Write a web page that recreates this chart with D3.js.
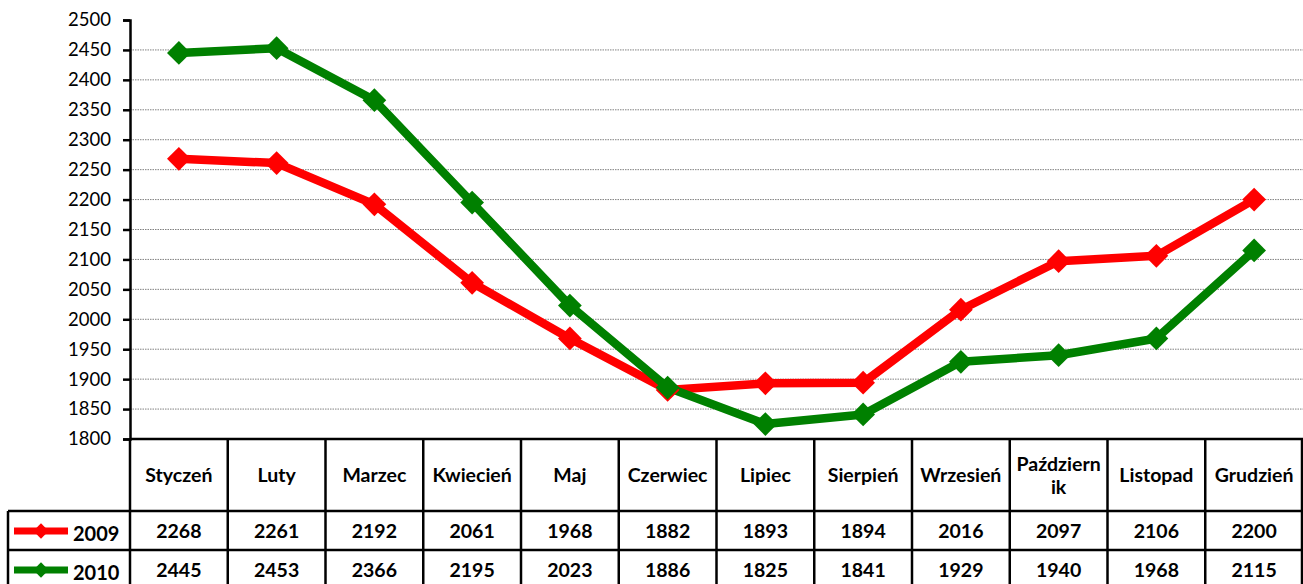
<!DOCTYPE html>
<html>
<head>
<meta charset="utf-8">
<script src="https://cdnjs.cloudflare.com/ajax/libs/d3/7.8.5/d3.min.js"></script>
<style>
  body { margin: 0; background: #fff; }
  svg { display: block; font-family: Lato, "Noto Sans", sans-serif; }
</style>
</head>
<body>
<div id="chart"></div>
<script>
var months = ["Styczeń", "Luty", "Marzec", "Kwiecień", "Maj", "Czerwiec", "Lipiec", "Sierpień", "Wrzesień", "Październik", "Listopad", "Grudzień"];
var monthLines = [["Styczeń"], ["Luty"], ["Marzec"], ["Kwiecień"], ["Maj"], ["Czerwiec"], ["Lipiec"], ["Sierpień"], ["Wrzesień"], ["Październ", "ik"], ["Listopad"], ["Grudzień"]];
var values2009 = [2268, 2261, 2192, 2061, 1968, 1882, 1893, 1894, 2016, 2097, 2106, 2200];
var values2010 = [2445, 2453, 2366, 2195, 2023, 1886, 1825, 1841, 1929, 1940, 1968, 2115];
var yTicks = d3.range(1800, 2501, 50);

var series = [
  { name: "2009", color: "#ff0000", values: values2009 },
  { name: "2010", color: "#008000", values: values2010 }
];

var svgWidth = 1303;
var svgHeight = 584;
var plot = { left: 130, right: 1303, top: 20, bottom: 439 };
var row1 = 511, row2 = 550, row3 = 590;

var svg = d3.select("#chart")
    .append("svg")
    .attr("width", svgWidth)
    .attr("height", svgHeight);

var x = d3.scaleBand().domain(months).range([plot.left, plot.right]);
var y = d3.scaleLinear().domain([1800, 2500]).range([plot.bottom, plot.top]);
var cx = d => x(d) + x.bandwidth() / 2;

// gridlines
svg.append("g")
    .selectAll("line")
    .data(yTicks.filter(t => t > 1800 && t < 2500))
    .enter()
    .append("line")
    .attr("x1", plot.left)
    .attr("x2", plot.right)
    .attr("y1", d => y(d))
    .attr("y2", d => y(d))
    .attr("stroke", "#808080")
    .attr("stroke-width", 1)
    .attr("stroke-dasharray", "1.5,1");

// y axis
var leftAxis = d3.axisLeft(y).tickValues(yTicks).tickFormat(d3.format("d")).tickSize(7).tickPadding(12);
var axisG = svg.append("g")
    .attr("transform", `translate(${plot.left}, 0)`)
    .call(leftAxis);
axisG.select(".domain").attr("stroke", "#000").attr("stroke-width", 2.5);
axisG.selectAll(".tick line").attr("stroke", "#000").attr("stroke-width", 2.5);
axisG.selectAll(".tick text")
    .style("font-size", "18.5px")
    .style("font-family", "Lato, 'Noto Sans', sans-serif")
    .attr("fill", "#000");

// lines and markers
var line = d3.line()
    .x((d, i) => cx(months[i]))
    .y(d => y(d));

series.forEach(function (s) {
    svg.append("path")
        .datum(s.values)
        .attr("d", line)
        .attr("fill", "none")
        .attr("stroke", s.color)
        .attr("stroke-width", 8.5)
        .attr("stroke-linejoin", "round");
});

var diamond = d3.symbol().type(d3.symbolDiamond2).size(360);
series.forEach(function (s) {
    svg.append("g")
        .selectAll("path")
        .data(s.values)
        .enter()
        .append("path")
        .attr("d", diamond)
        .attr("transform", (d, i) => `translate(${cx(months[i])}, ${y(d)})`)
        .attr("fill", s.color);
});

// data table
var table = svg.append("g");
var lw = 2.5;

table.append("line").attr("x1", plot.left).attr("x2", plot.right).attr("y1", plot.bottom).attr("y2", plot.bottom)
    .attr("stroke", "#000").attr("stroke-width", lw);
[row1, row2].forEach(function (yy) {
    table.append("line").attr("x1", 8).attr("x2", plot.right).attr("y1", yy).attr("y2", yy)
        .attr("stroke", "#000").attr("stroke-width", lw);
});
var bounds = months.map(m => x(m)).concat([plot.right - 1]);
table.selectAll(".vline")
    .data(bounds)
    .enter()
    .append("line")
    .attr("class", "vline")
    .attr("x1", d => d)
    .attr("x2", d => d)
    .attr("y1", plot.bottom)
    .attr("y2", row3)
    .attr("stroke", "#000")
    .attr("stroke-width", lw);
table.append("line").attr("x1", 8).attr("x2", 8).attr("y1", row1).attr("y2", row3)
    .attr("stroke", "#000").attr("stroke-width", lw);

// header
months.forEach(function (m, i) {
    var lines = monthLines[i];
    var midY = (plot.bottom + row1) / 2;
    lines.forEach(function (t, j) {
        table.append("text")
            .attr("x", cx(m))
            .attr("y", midY + 7 + (j - (lines.length - 1) / 2) * 23)
            .attr("text-anchor", "middle")
            .style("font-size", "19.5px")
            .style("font-weight", "bold")
            .text(t);
    });
});

// rows
var rowTops = [row1, row2];
series.forEach(function (s, k) {
    var midY = rowTops[k] + 20;
    s.values.forEach(function (v, i) {
        table.append("text")
            .attr("x", cx(months[i]))
            .attr("y", midY + 7)
            .attr("text-anchor", "middle")
            .style("font-size", "19.5px")
            .style("font-weight", "bold")
            .text(v);
    });
    // legend key
    table.append("line")
        .attr("x1", 14).attr("x2", 68)
        .attr("y1", midY).attr("y2", midY)
        .attr("stroke", s.color).attr("stroke-width", 7);
    table.append("path")
        .attr("d", d3.symbol().type(d3.symbolDiamond2).size(150))
        .attr("transform", `translate(41, ${midY})`)
        .attr("fill", s.color);
    table.append("text")
        .attr("x", 73)
        .attr("y", midY + 10)
        .style("font-size", "20px")
        .style("font-weight", "bold")
        .text(s.name);
});
</script>
</body>
</html>
